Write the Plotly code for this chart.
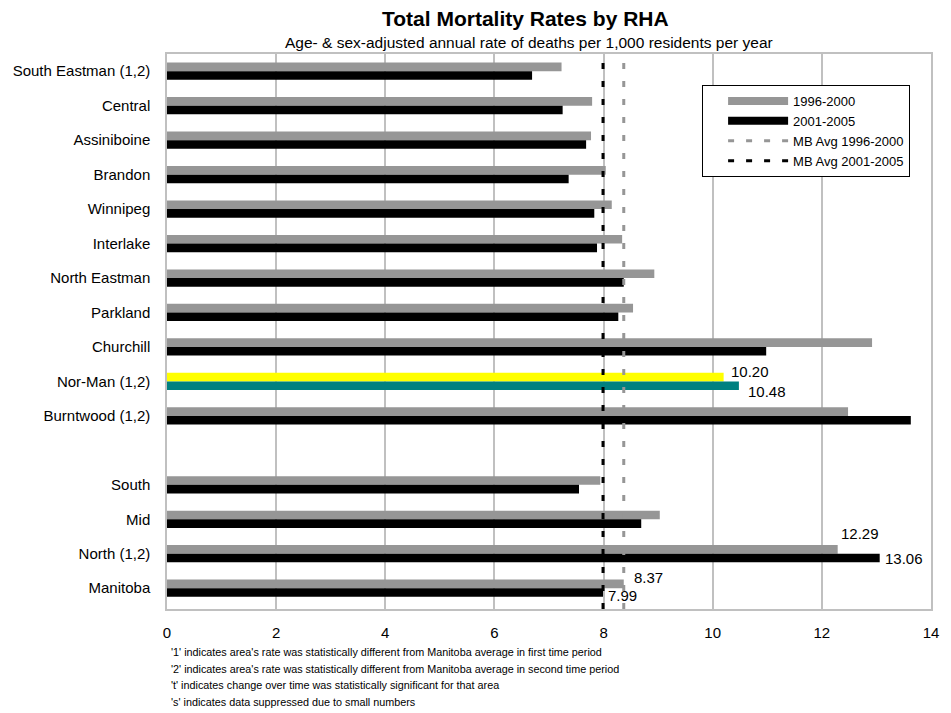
import plotly.graph_objects as go

# data
regions = ["South Eastman (1,2)", "Central", "Assiniboine", "Brandon", "Winnipeg",
           "Interlake", "North Eastman", "Parkland", "Churchill", "Nor-Man (1,2)",
           "Burntwood (1,2)", " ", "South", "Mid", "North (1,2)", "Manitoba"]
rate_1996_2000 = [7.23, 7.79, 7.77, 8.04, 8.15, 8.34, 8.93, 8.54, 12.92, 10.20,
                  12.48, None, 7.94, 9.03, 12.29, 8.37]
rate_2001_2005 = [6.69, 7.25, 7.68, 7.36, 7.83, 7.88, 8.37, 8.27, 10.98, 10.48,
                  13.63, None, 7.55, 8.69, 13.06, 7.99]
mb_avg_1996_2000 = 8.37
mb_avg_2001_2005 = 7.99
x_ticks = [0, 2, 4, 6, 8, 10, 12, 14]
labelled = ["Nor-Man (1,2)", "North (1,2)", "Manitoba"]

footnotes = [
    "'1' indicates area's rate was statistically different from Manitoba average in first time period",
    "'2' indicates area's rate was statistically different from Manitoba average in second time period",
    "'t' indicates change over time was statistically significant for that area",
    "'s' indicates data suppressed due to small numbers",
]

GRAY = "#969696"
FONT = "Liberation Sans, Arial, sans-serif"

# Nor-Man is highlighted
c1 = ["#FFFF00" if r == "Nor-Man (1,2)" else GRAY for r in regions]
c2 = ["#008080" if r == "Nor-Man (1,2)" else "#000000" for r in regions]

fig = go.Figure()
fig.add_trace(go.Bar(y=regions, x=rate_1996_2000, orientation="h", marker_color=c1,
                     marker_line_width=0, showlegend=False, hoverinfo="x+y"))
fig.add_trace(go.Bar(y=regions, x=rate_2001_2005, orientation="h", marker_color=c2,
                     marker_line_width=0, showlegend=False, hoverinfo="x+y"))

# legend entries drawn as thick lines like the excel legend
fig.add_trace(go.Scatter(x=[None], y=[None], mode="lines", name="1996-2000",
                         line=dict(color=GRAY, width=8)))
fig.add_trace(go.Scatter(x=[None], y=[None], mode="lines", name="2001-2005",
                         line=dict(color="#000000", width=8)))

fig.add_vline(x=mb_avg_1996_2000, line=dict(color=GRAY, width=3, dash="6px,12px"),
              showlegend=True, name="MB Avg 1996-2000", layer="above")
fig.add_vline(x=mb_avg_2001_2005, line=dict(color="#000000", width=3, dash="6px,12px"),
              showlegend=True, name="MB Avg 2001-2005", layer="above")

# value labels
offsets = {
    "Nor-Man (1,2)": [(5, 6), (7, -6)],
    "North (1,2)": [(1, 16), (3, 0)],
    "Manitoba": [(8, 6), (3, -3)],
}
for r in labelled:
    i = regions.index(r)
    for k, (v, dy) in enumerate([(rate_1996_2000[i], -4.3), (rate_2001_2005[i], 4.3)]):
        dx, up = offsets[r][k]
        fig.add_annotation(x=v, y=r, text=f"{v:.2f}", showarrow=False, xanchor="left",
                           xshift=dx, yshift=-dy + up, font=dict(size=15, color="#000"))

fig.add_annotation(text="<b>Total Mortality Rates by RHA</b>", xref="paper", yref="paper",
                   x=(529 - 167) / 771, y=(609 - 18) / 555, yanchor="middle",
                   showarrow=False, font=dict(size=21, color="#000"))
fig.add_annotation(text="Age- & sex-adjusted annual rate of deaths per 1,000 residents per year",
                   xref="paper", yref="paper", x=(532 - 167) / 771, y=(609 - 43) / 555,
                   yanchor="middle", showarrow=False, font=dict(size=15.5, color="#000"))

for j, t in enumerate(footnotes):
    fig.add_annotation(text=t, xref="paper", yref="paper", x=(169 - 167) / 771,
                       y=(609 - (652 + 16.7 * j)) / 555, xanchor="left", yanchor="middle",
                       showarrow=False, font=dict(size=10.8, color="#000"))

fig.update_layout(
    width=951, height=713,
    margin=dict(l=167, r=13, t=54, b=104),
    paper_bgcolor="white", plot_bgcolor="white",
    font=dict(family=FONT, color="#000"),
    barmode="group", bargap=0.5, bargroupgap=0,
    legend=dict(x=(707 - 167) / 771, y=(609 - 85) / 555, xanchor="left", yanchor="top",
                bgcolor="white", bordercolor="#000", borderwidth=1,
                font=dict(size=13), itemwidth=60, indentation=20),
    showlegend=True,
)
fig.update_xaxes(range=[0, 14], tickvals=x_ticks, showgrid=True, gridcolor="#c0c0c0",
                 gridwidth=1.5, showline=True, linecolor="#c0c0c0", linewidth=1.5,
                 mirror=True, zeroline=False, tickfont=dict(size=15), ticks="",
                 ticklabelstandoff=9)
fig.update_yaxes(autorange="reversed", showgrid=False, showline=True, linecolor="#c0c0c0",
                 linewidth=1.5, mirror=True, tickfont=dict(size=15), ticks="",
                 ticklabelstandoff=12)

# drop the default 8px page margin so the figure sits at the window corner
fig.write_html("out.html", config={"displayModeBar": False},
               post_script="document.body.style.margin='0';")
